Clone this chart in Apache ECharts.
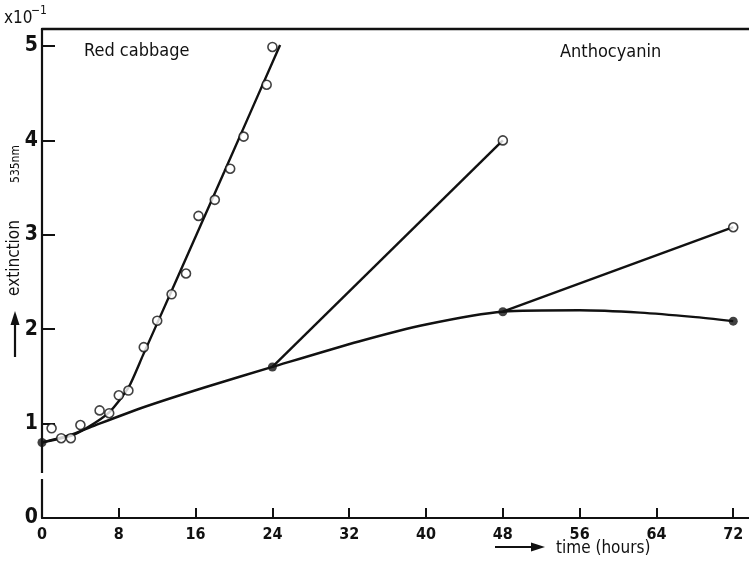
<!DOCTYPE html>
<html>
<head>
<meta charset="utf-8">
<script src="https://cdn.jsdelivr.net/npm/echarts@6/dist/echarts.min.js"></script>
<style>html,body{margin:0;padding:0;background:#fff}#c{width:749px;height:564px}</style>
</head>
<body>
<div id="c"></div>
<script>
// ---- data ----
var xTickLabels = [0, 8, 16, 24, 32, 40, 48, 56, 64, 72];
var yTickLabels = [0, 1, 2, 3, 4, 5];
var cabbagePoints = [[1,0.95],[2,0.845],[3,0.845],[4,0.985],[6,1.14],[7,1.11],[8,1.30],[9,1.35],[10.6,1.81],[12,2.09],[13.5,2.37],[15,2.59],[16.3,3.2],[18,3.37],[19.6,3.7],[21,4.04],[23.4,4.59],[24,4.99]];
var cabbageFit = [[0,0.8],[3,0.87],[4.6,0.95],[7,1.12],[9,1.38],[10.5,1.72],[14,2.52],[19,3.67],[24.8,5.01]];
var baseCurve = [[0,0.8],[3,0.88],[5,0.96],[10.2,1.16],[17,1.385],[24,1.6],[33,1.87],[40,2.05],[48,2.185],[56,2.2],[62.3,2.175],[67.8,2.13],[72,2.085]];
var baseDots = [[0,0.8],[24,1.6],[48,2.185],[72,2.085]];
var branch24 = [[24,1.6],[48,4.0]];
var branch48 = [[48,2.185],[72,3.08]];
var branchEnds = [[48,4.0],[72,3.08]];

var FONT = '"DejaVu Sans Condensed","DejaVu Sans",sans-serif';
var chart = echarts.init(document.getElementById('c'));
var openCircle = {symbol:'circle', symbolSize:9, itemStyle:{color:'#fff', borderColor:'#111', borderWidth:1.6}};
chart.setOption({
  animation:false,
  grid:{left:42, right:0.4, top:29, bottom:46},
  xAxis:[{
    type:'value', min:0, max:73.6, position:'bottom',
    axisLine:{show:true, lineStyle:{color:'#111', width:2.2}},
    axisTick:{show:true, inside:true, length:10, customValues:xTickLabels.slice(1), lineStyle:{color:'#111', width:2}},
    axisLabel:{customValues:xTickLabels, margin:9, color:'#111', fontFamily:FONT, fontWeight:'bold', fontSize:16},
    splitLine:{show:false}
  },{
    type:'value', min:0, max:73.6, position:'top',
    axisLine:{show:true, onZero:false, lineStyle:{color:'#111', width:2.4}},
    axisTick:{show:false}, axisLabel:{show:false}, splitLine:{show:false}
  }],
  yAxis:{
    type:'value', min:0, max:5.18,
    axisLine:{show:true, lineStyle:{color:'#111', width:2.2}},
    axisTick:{show:true, inside:true, length:13, customValues:yTickLabels.slice(1), lineStyle:{color:'#111', width:2}},
    axisLabel:{customValues:yTickLabels, margin:4, color:'#111', fontFamily:FONT, fontWeight:'bold', fontSize:21},
    splitLine:{show:false}
  },
  series:[
    {type:'line', data:cabbageFit, smooth:0.2, showSymbol:false, symbol:'none', lineStyle:{color:'#111', width:2.4}, z:2},
    {type:'line', data:baseCurve, smooth:0.25, showSymbol:false, symbol:'none', lineStyle:{color:'#111', width:2.4}, z:2},
    {type:'line', data:branch24, showSymbol:false, symbol:'none', lineStyle:{color:'#111', width:2.4}, z:2},
    {type:'line', data:branch48, showSymbol:false, symbol:'none', lineStyle:{color:'#111', width:2.4}, z:2},
    Object.assign({type:'scatter', data:cabbagePoints, z:3}, openCircle),
    Object.assign({type:'scatter', data:branchEnds, z:3}, openCircle),
    {type:'scatter', data:baseDots, symbol:'circle', symbolSize:9, itemStyle:{color:'#111'}, z:4}
  ],
  graphic:[
    {type:'rect', shape:{x:38, y:473, width:8, height:6}, style:{fill:'#fff'}, z:100},
    {type:'text', x:4, y:27, style:{text:'x10', font:'17px '+FONT, fill:'#111', textVerticalAlign:'bottom'}},
    {type:'text', x:31, y:17, style:{text:'−1', font:'12px '+FONT, fill:'#111', textVerticalAlign:'bottom'}},
    {type:'text', x:84, y:51, style:{text:'Red cabbage', font:'18px '+FONT, fill:'#111', textVerticalAlign:'middle'}},
    {type:'text', x:560, y:52, style:{text:'Anthocyanin', font:'18px '+FONT, fill:'#111', textVerticalAlign:'middle'}},
    {type:'text', x:556, y:549, style:{text:'time (hours)', font:'17px '+FONT, fill:'#111', textVerticalAlign:'middle'}},
    {type:'line', shape:{x1:495, y1:547, x2:533, y2:547}, style:{stroke:'#111', lineWidth:2.2}},
    {type:'polygon', shape:{points:[[545,547],[531,542.5],[531,551.5]]}, style:{fill:'#111'}},
    {type:'text', x:15, y:258, rotation:Math.PI/2, style:{text:'extinction', font:'17px '+FONT, fill:'#111', textAlign:'center', textVerticalAlign:'middle'}},
    {type:'text', x:16, y:164, rotation:Math.PI/2, style:{text:'535nm', font:'12px '+FONT, fill:'#111', textAlign:'center', textVerticalAlign:'middle'}},
    {type:'line', shape:{x1:15, y1:357, x2:15, y2:323}, style:{stroke:'#111', lineWidth:2.2}},
    {type:'polygon', shape:{points:[[15,311],[10.5,325],[19.5,325]]}, style:{fill:'#111'}}
  ]
});
</script>
</body>
</html>
